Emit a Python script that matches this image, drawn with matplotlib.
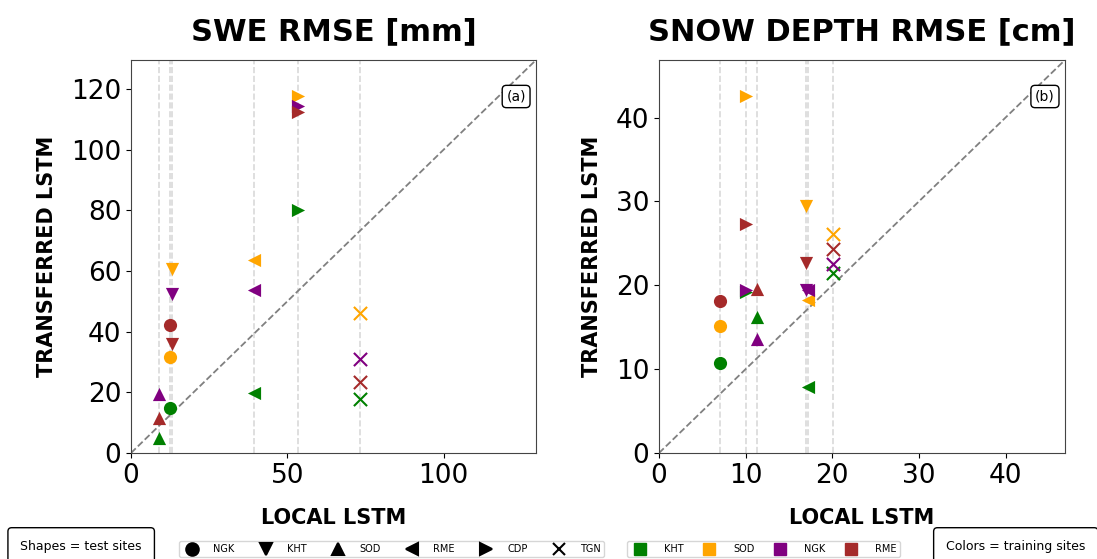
import matplotlib
matplotlib.use("Agg")
import matplotlib.pyplot as plt
import numpy as np
from matplotlib.lines import Line2D

nan = np.nan

test_sites = ["NGK", "KHT", "SOD", "RME", "CDP", "TGN"]
test_markers = ["o", "v", "^", "<", ">", "x"]
train_sites = ["KHT", "SOD", "NGK", "RME"]
train_colors = ["green", "orange", "purple", "brown"]

# SWE RMSE [mm]: local LSTM per test site, transferred per training site
swe_local = [12.4, 13.2, 8.9, 39.4, 53.5, 73.4]
swe_from_kht = [15.0, nan, 4.8, 19.7, 80.0, 17.7]
swe_from_sod = [31.7, 60.7, nan, 63.5, 117.8, 46.3]
swe_from_ngk = [nan, 52.5, 19.6, 53.8, 114.3, 30.9]
swe_from_rme = [42.1, 36.0, 11.4, nan, 112.3, 23.5]

# Snow depth RMSE [cm]
sd_local = [7.07, 17.0, 11.3, 17.2, 10.05, 20.05]
sd_from_kht = [10.7, nan, 16.2, 7.9, 19.2, 21.5]
sd_from_sod = [15.2, 29.5, nan, 18.2, 42.6, 26.1]
sd_from_ngk = [nan, 19.4, 13.6, 19.4, 19.4, 22.5]
sd_from_rme = [18.1, 22.6, 19.5, nan, 27.3, 24.3]


def draw_panel(ax, local, transfers, title, tag):
    transfers = np.array(transfers)
    lim = np.nanmax(transfers) * 1.1
    for x in local:
        ax.axvline(x, color="gray", ls="--", alpha=0.3, lw=1.2, zorder=0)
    ax.plot([0, lim], [0, lim], "--", color="gray", lw=1.3, zorder=1)
    for row, color in zip(transfers, train_colors):
        for x, y, m in zip(local, row, test_markers):
            if np.isnan(y):
                continue
            ax.scatter(x, y, marker=m, color=color, s=90, zorder=3,
                       linewidths=1.5 if m == "x" else 0)
    ax.set_xlim(0, lim)
    ax.set_ylim(0, lim)
    ax.set_title(title, fontsize=22, fontweight="bold", pad=14)
    ax.set_xlabel("LOCAL LSTM", fontsize=15, fontweight="bold", labelpad=14)
    ax.set_ylabel("TRANSFERRED LSTM", fontsize=15, fontweight="bold", labelpad=10)
    ax.tick_params(labelsize=19)
    for sp in ax.spines.values():
        sp.set_color("#444444")
    ax.text(0.975, 0.925, tag, transform=ax.transAxes, ha="right", va="top",
            fontsize=10, bbox=dict(boxstyle="round,pad=0.3", fc="white", ec="black"))


fig = plt.figure(figsize=(10.97, 5.59), dpi=100)
ax1 = fig.add_axes([0.1194, 0.1896, 0.3692, 0.703])
ax2 = fig.add_axes([0.6007, 0.1896, 0.3701, 0.703])

draw_panel(ax1, swe_local, [swe_from_kht, swe_from_sod, swe_from_ngk, swe_from_rme],
           "SWE RMSE [mm]", "(a)")
draw_panel(ax2, sd_local, [sd_from_kht, sd_from_sod, sd_from_ngk, sd_from_rme],
           "SNOW DEPTH RMSE [cm]", "(b)")

shape_handles = [Line2D([], [], marker=m, color="black", ls="None", markersize=9,
                        markeredgewidth=1.5, label=s)
                 for m, s in zip(test_markers, test_sites)]
color_handles = [Line2D([], [], marker="s", color=c, ls="None", markersize=9, label=s)
                 for c, s in zip(train_colors, train_sites)]

fig.legend(handles=shape_handles, ncol=6, fontsize=7, loc="center",
           bbox_to_anchor=(0.357, 0.018), frameon=True, handletextpad=1.2,
           columnspacing=2.2, borderpad=0.3)
fig.legend(handles=color_handles, ncol=4, fontsize=7, loc="center",
           bbox_to_anchor=(0.696, 0.018), frameon=True, handletextpad=1.5,
           columnspacing=1.6, borderpad=0.3)

fig.text(0.074, 0.022, "Shapes = test sites", ha="center", va="center", fontsize=9,
         bbox=dict(boxstyle="round,pad=1.0,rounding_size=0.3", fc="white", ec="black"))
fig.text(0.926, 0.022, "Colors = training sites", ha="center", va="center", fontsize=9,
         bbox=dict(boxstyle="round,pad=1.0,rounding_size=0.3", fc="white", ec="black"))

fig.savefig("out.png", dpi=100)
